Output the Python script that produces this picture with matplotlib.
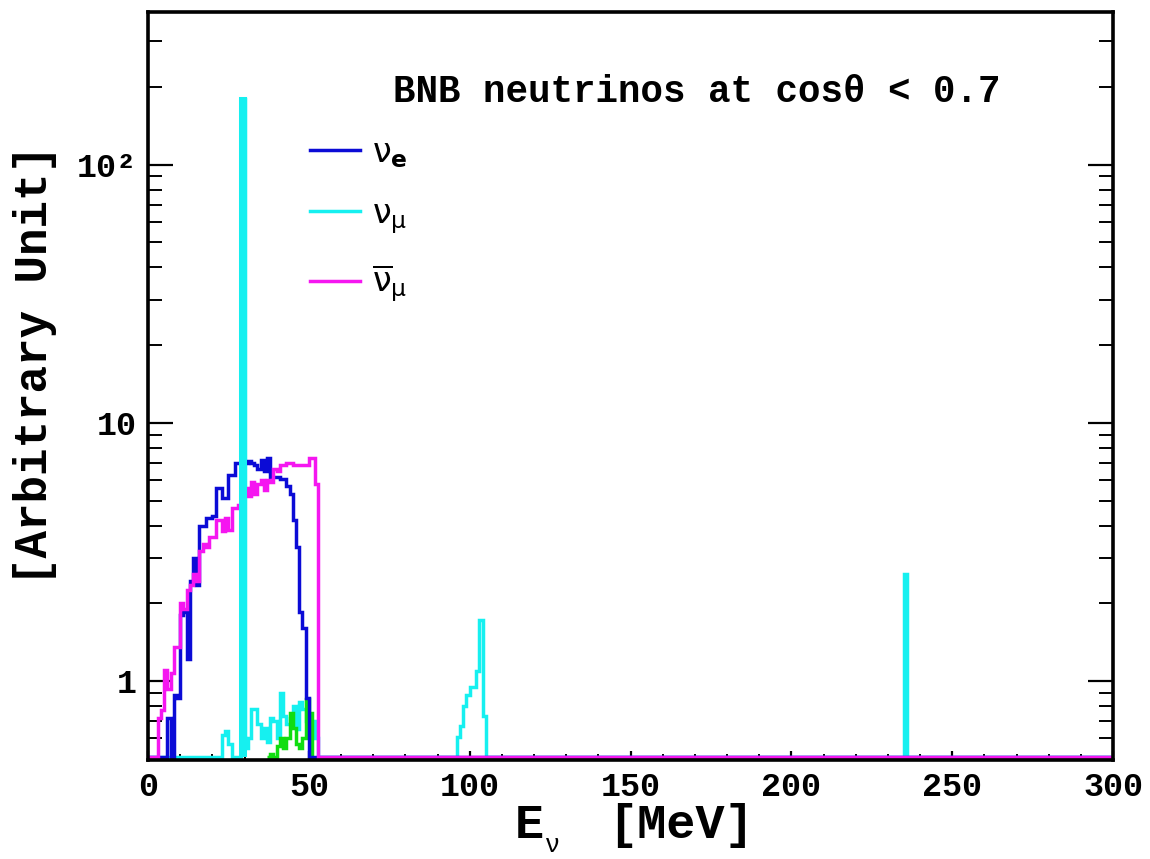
import numpy as np
import matplotlib
matplotlib.use("Agg")
import matplotlib.pyplot as plt
from matplotlib.lines import Line2D
from matplotlib.ticker import FixedLocator, FixedFormatter, LogLocator, NullFormatter, MultipleLocator

plt.rcParams["mathtext.default"] = "regular"

# ---- binning (1 MeV bins from 0 to 300 MeV) ----
E_MIN, E_MAX, BIN_WIDTH = 0, 300, 1

# ---- nu_e spectrum: first non-empty bin and bin contents ----
nue_start = 6
nue_vals = [0.72, 0, 0.88, 0.86, 1.8, 1.85, 1.22, 2.45, 3.0, 2.35,
            4.0, 4.0, 4.3, 4.3, 4.35, 5.6, 5.6, 5.1, 5.1, 6.3,
            6.3, 7.0, 7.0, 7.05, 7.0, 7.1, 7.0, 6.9, 6.6, 7.2,
            6.5, 7.3, 6.2, 6.15, 6.15, 6.05, 6.05, 5.7, 5.3, 4.2,
            3.3, 1.85, 1.6, 0.86]

# ---- anti-nu_mu spectrum ----
numubar_start = 3
numubar_vals = [0.72, 0.77, 1.1, 0.93, 1.08, 1.35, 1.35, 2.0, 1.9, 2.25,
                2.35, 2.6, 2.45, 3.2, 3.4, 3.3, 3.6, 3.6, 4.2, 4.2,
                3.8, 4.3, 3.85, 4.7, 4.7, 4.8, 5.3, 5.6, 5.2, 5.9,
                5.3, 5.8, 6.0, 5.5, 6.0, 5.9, 6.6, 6.5, 6.9, 6.9,
                7.0, 7.0, 6.9, 6.9, 6.9, 6.9, 6.9, 7.3, 7.3, 5.8]

# ---- nu_mu spectrum: low-energy part (incl. the 29.8 MeV pion-decay line),
#      the ~100 MeV bump and the 236 MeV kaon-decay line ----
numu_low_start = 23
numu_low_vals = [0.62, 0.64, 0.57, 0, 0, 0, 180, 0.55, 0.6, 0.78,
                 0.78, 0.68, 0.6, 0.66, 0.58, 0.72, 0.7, 0.6, 0.9, 0.73,
                 0.68, 0.72, 0.8, 0.65, 0.83, 0.78, 0.7, 0.62, 0.7, 0.6]
numu_bump_start = 96
numu_bump_vals = [0.61, 0.67, 0.80, 0.885, 0.95, 0.95, 1.09, 1.72, 0.73]
numu_kdar_bin = 235
numu_kdar_val = 2.6

# ---- additional (green) component ----
green_start = 37
green_vals = [0.51, 0.52, 0, 0.56, 0.6, 0.55, 0.6, 0.75, 0.66, 0.57,
              0.55, 0.6, 0.85, 0.75]

# ---- axis ticks ----
y_major = [1, 10, 100]
y_major_labels = ["1", "10", "10\u00b2"]

edges = np.arange(E_MIN, E_MAX + BIN_WIDTH, BIN_WIDTH)
nbins = len(edges) - 1


def fill(start, vals, arr=None):
    if arr is None:
        arr = np.zeros(nbins)
    arr[start:start + len(vals)] = vals
    return arr


nue = fill(nue_start, nue_vals)
numubar = fill(numubar_start, numubar_vals)
numu = fill(numu_low_start, numu_low_vals)
numu = fill(numu_bump_start, numu_bump_vals, numu)
numu[numu_kdar_bin] = numu_kdar_val
green = fill(green_start, green_vals)

Y_LO, Y_HI = 0.495, 390
FLOOR = 0.508  # empty bins are drawn along the bottom of the frame


def shown(a):
    return np.maximum(a, FLOOR)


W, H = 1150, 859
fig = plt.figure(figsize=(W / 100, H / 100), dpi=100)
fig.patch.set_facecolor("white")
ax = fig.add_axes([148 / W, 1 - 760 / H, (1113 - 148) / W, (760 - 12) / H])

C_NUE = "#0b0bd6"
C_NUMU = "#16f0f0"
C_NUMUBAR = "#f516f0"
C_GREEN = "#10dd10"
LW = 2.5

ax.stairs(shown(numu), edges, baseline=None, color=C_NUMU, lw=LW, zorder=2.0)
# green component only over its populated range
g0, g1 = green_start, green_start + len(green_vals)
ax.stairs(shown(green[g0:g1]), edges[g0:g1 + 1], baseline=FLOOR,
          color=C_GREEN, lw=LW, zorder=2.1)
ax.stairs(shown(nue), edges, baseline=None, color=C_NUE, lw=LW, zorder=2.2)
ax.stairs(shown(numubar), edges, baseline=None, color=C_NUMUBAR, lw=LW, zorder=2.3)
# the 29.8 MeV line is drawn above the other spectra
k = numu_low_start + int(np.argmax(numu_low_vals))
ax.stairs(numu[k:k + 1], edges[k:k + 2], baseline=FLOOR,
          color=C_NUMU, lw=LW + 0.4, zorder=2.4)

ax.set_xlim(E_MIN, E_MAX)
ax.set_yscale("log")
ax.set_ylim(Y_LO, Y_HI)

for s in ax.spines.values():
    s.set_linewidth(2.6)
    s.set_color("black")
    s.set_zorder(3)

mono = "Liberation Mono"

ax.yaxis.set_major_locator(FixedLocator(y_major))
ax.yaxis.set_major_formatter(FixedFormatter(y_major_labels))
ax.yaxis.set_minor_locator(LogLocator(base=10, subs=np.arange(2, 10)))
ax.yaxis.set_minor_formatter(NullFormatter())
ax.xaxis.set_major_locator(MultipleLocator(50))
ax.xaxis.set_minor_locator(MultipleLocator(10))

ax.tick_params(axis="y", which="major", direction="in", left=True, right=True,
               length=18, width=1.6, pad=8)
ax.tick_params(axis="y", which="minor", direction="in", left=True, right=True,
               length=10, width=1.4)
ax.tick_params(axis="x", which="major", direction="in", bottom=True, top=False,
               length=6.5, width=1.6, pad=9)
ax.tick_params(axis="x", which="minor", direction="in", bottom=True, top=False,
               length=4, width=1.4)

for lab in ax.get_xticklabels() + ax.get_yticklabels():
    lab.set_fontfamily(mono)
    lab.set_fontweight("bold")
    lab.set_fontsize(24)

# axis titles
fig.text(35 / W, 1 - 365 / H, "[Arbitrary Unit]", rotation=90, ha="center",
         va="center", family=mono, weight="bold", fontsize=33)
fig.text(515 / W, 1 - 826 / H, "E", ha="left", va="center",
         family=mono, weight="bold", fontsize=35)
fig.text(546 / W, 1 - 845 / H, "\u03bd", ha="left", va="center",
         family="Liberation Sans", fontsize=19)
fig.text(608 / W, 1 - 826 / H, "[MeV]", ha="left", va="center",
         family=mono, weight="bold", fontsize=35)

fig.text(393 / W, 1 - 92 / H, "BNB neutrinos at cos\u03b8 < 0.7", ha="left",
         va="center", family=mono, weight="bold", fontsize=27)

handles = [Line2D([], [], color=C_NUE, lw=LW),
           Line2D([], [], color=C_NUMU, lw=LW),
           Line2D([], [], color=C_NUMUBAR, lw=LW)]
labels = [r"$\nu_{\mathbf{e}}$", r"$\nu_{\mu}$", r"$\overline{\nu}_{\mu}$"]
leg = fig.legend(handles, labels, loc="upper left",
                 bbox_to_anchor=(310 / W, 1 - 136 / H), frameon=False,
                 fontsize=24, handlelength=1.5, handletextpad=0.35,
                 labelspacing=0.82, borderpad=0, borderaxespad=0)

fig.savefig("out.png", dpi=100, facecolor="white")
